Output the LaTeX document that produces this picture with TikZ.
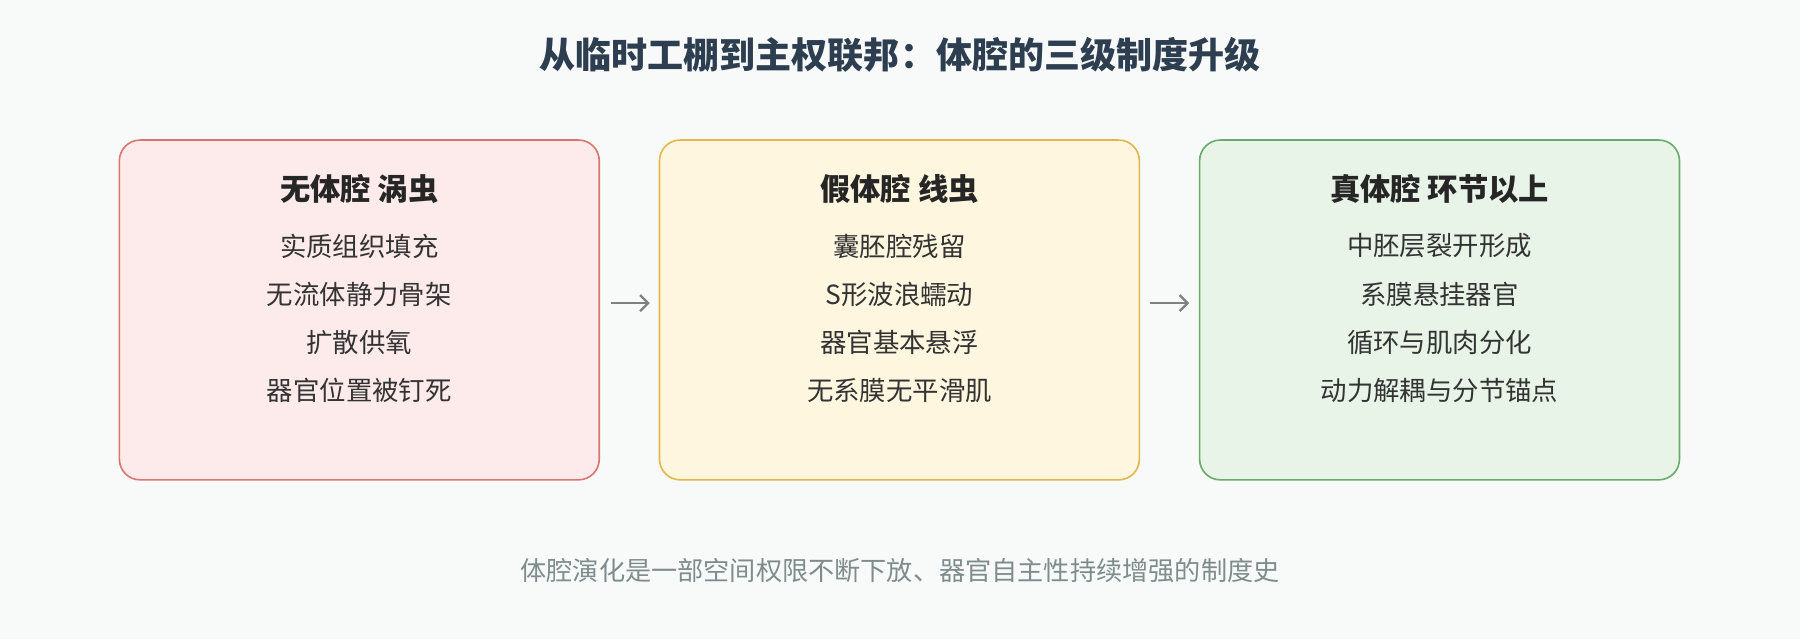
\documentclass[tikz,border=0pt]{standalone}
\usepackage{fontspec}
\setmainfont{Noto Sans CJK SC}
\usetikzlibrary{arrows.meta}
\definecolor{bg}{HTML}{F8F9F9}
\definecolor{titlec}{HTML}{2C3E50}
\definecolor{footc}{HTML}{7F8C8D}
\definecolor{redf}{HTML}{FDEAEA}\definecolor{redd}{HTML}{D9776E}
\definecolor{yelf}{HTML}{FEF6DF}\definecolor{yeld}{HTML}{E3B84A}
\definecolor{grnf}{HTML}{E8F4E8}\definecolor{grnd}{HTML}{6AAA6A}
\begin{document}
\begin{tikzpicture}[x=0.5pt,y=-0.5pt,
  box/.style={draw=#1d,fill=#1f,rounded corners=9pt,line width=0.7pt,minimum width=209pt,minimum height=148pt,inner sep=0pt},
  head/.style={font=\fontsize{13.2}{15}\selectfont\bfseries,text=black!85},
  item/.style={font=\fontsize{11.5}{13}\selectfont,text=black!80},
  arr/.style={-{Straight Barb[length=3.5pt,width=7pt]},draw=gray,line width=1pt}]
\fill[bg] (0,0) rectangle (1568,557);
\useasboundingbox (0,0) rectangle (1568,557);
\node[font=\fontsize{15.7}{18}\selectfont\bfseries,text=titlec] (title) at (784,48) {从临时工棚到主权联邦：体腔的三级制度升级};
\node[box=red] (b1) at (313,270) {};
\node[box=yel] (b2) at (783.5,270) {};
\node[box=grn] (b3) at (1254,270) {};
\foreach \b/\h/\a/\bb/\c/\d in {b1/无体腔 涡虫/实质组织填充/无流体静力骨架/扩散供氧/器官位置被钉死,
  b2/假体腔 线虫/囊胚腔残留/S形波浪蠕动/器官基本悬浮/无系膜无平滑肌,
  b3/真体腔 环节以上/中胚层裂开形成/系膜悬挂器官/循环与肌肉分化/动力解耦与分节锚点}{
  \path (\b.north) ++(0,43) node[head] (\b h) {\h};
  \path (\b.north) ++(0,93) node[item] (\b i1) {\a};
  \path (\b.north) ++(0,135) node[item] (\b i2) {\bb};
  \path (\b.north) ++(0,177) node[item] (\b i3) {\c};
  \path (\b.north) ++(0,219) node[item] (\b i4) {\d};
}
\coordinate (a1s) at (532,264); \coordinate (a1e) at (566,264);
\coordinate (a2s) at (1002,264); \coordinate (a2e) at (1036,264);
\draw[arr] (a1s) -- (a1e);
\draw[arr] (a2s) -- (a2e);
\node[font=\fontsize{11.4}{13}\selectfont,text=footc] (foot) at (784,497) {体腔演化是一部空间权限不断下放、器官自主性持续增强的制度史};
\end{tikzpicture}
\end{document}
